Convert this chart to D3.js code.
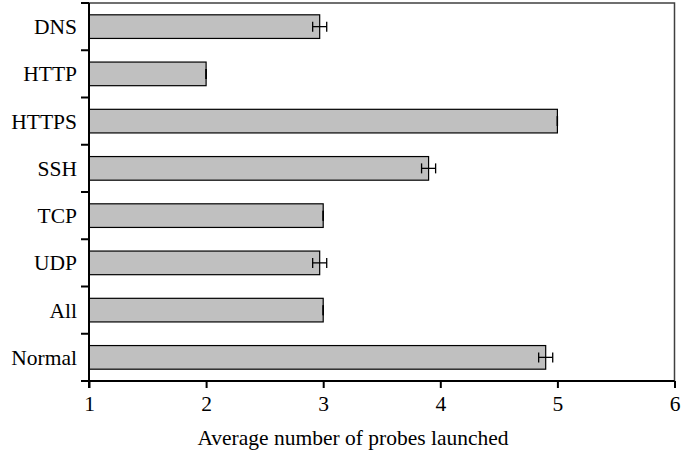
<!DOCTYPE html>
<html>
<head>
<meta charset="utf-8">
<script src="https://cdn.jsdelivr.net/npm/d3@7"></script>
<style>
html,body{margin:0;padding:0;background:#fff;}
svg{display:block;}
text{font-family:"Liberation Serif","Times New Roman",serif;fill:#000;}
</style>
</head>
<body>
<svg id="chart" width="699" height="453"></svg>
<script>
const categories = ["DNS","HTTP","HTTPS","SSH","TCP","UDP","All","Normal"];
const values = [2.97, 2.0, 5.0, 3.9, 3.0, 2.97, 3.0, 4.9];
const errors = [0.06, 0.0, 0.0, 0.06, 0.0, 0.06, 0.0, 0.06];
const xTicks = [1,2,3,4,5,6];
const xTitle = "Average number of probes launched";

const FS = 21.5;
const svg = d3.select("#chart");
const L = 89, R = 674.5, T = 3, B = 381;
const x = d3.scaleLinear().domain([1,6]).range([L,R]);
const y = d3.scaleBand().domain(categories).range([T,B]).paddingInner(0.5).paddingOuter(0.25);
const yb = d3.scaleBand().domain(categories).range([T,B]);

// frame top/right
svg.append("path")
  .attr("d", `M${L},${T}H${R}V${B}`)
  .attr("fill","none").attr("stroke","#404040").attr("stroke-width",1.5);

// bars
svg.selectAll("rect.bar").data(categories).join("rect")
  .attr("x", x(1))
  .attr("y", d => y(d))
  .attr("width", (d,i) => x(values[i]) - x(1))
  .attr("height", y.bandwidth())
  .attr("fill","#c0c0c0").attr("stroke","#000").attr("stroke-width",1.2);

// error bars
const capH = 10;
categories.forEach((c,i) => {
  const cy = y(c) + y.bandwidth()/2;
  const g = svg.append("g").attr("stroke","#000").attr("stroke-width",1.3);
  const x0 = x(values[i]-errors[i]), x1 = x(values[i]+errors[i]);
  g.append("line").attr("x1",x0).attr("x2",x1).attr("y1",cy).attr("y2",cy);
  g.append("line").attr("x1",x0).attr("x2",x0).attr("y1",cy-capH/2).attr("y2",cy+capH/2);
  g.append("line").attr("x1",x1).attr("x2",x1).attr("y1",cy-capH/2).attr("y2",cy+capH/2);
});

// y axis: ticks at band boundaries
const yAxisG = svg.append("g");
yAxisG.append("line").attr("x1",L).attr("x2",L).attr("y1",T).attr("y2",B+7).attr("stroke","#000").attr("stroke-width",2);
const bounds = categories.map(c => yb(c)).concat([B]);
yAxisG.selectAll("line.tk").data(bounds).join("line")
  .attr("x1",L-8).attr("x2",L).attr("y1",d=>d).attr("y2",d=>d)
  .attr("stroke","#000").attr("stroke-width",2);
yAxisG.selectAll("text").data(categories).join("text")
  .attr("x", L-12).attr("y", d => yb(d) + yb.bandwidth()/2)
  .attr("dy","0.35em").attr("text-anchor","end").attr("font-size",FS)
  .text(d => d);

// x axis
const xAxis = d3.axisBottom(x).tickValues(xTicks).tickFormat(d3.format("d")).tickSize(7).tickPadding(8);
const xg = svg.append("g").attr("transform",`translate(0,${B})`).call(xAxis);
xg.select(".domain").attr("stroke","#000").attr("stroke-width",2).attr("d",`M${L-8},0H${R}`);
xg.selectAll(".tick line").attr("stroke","#000").attr("stroke-width",2);
xg.selectAll(".tick text").attr("font-size",FS).attr("fill","#000");

svg.append("text").attr("x",353).attr("y",445).attr("text-anchor","middle").attr("font-size",FS).text(xTitle);
</script>
</body>
</html>
